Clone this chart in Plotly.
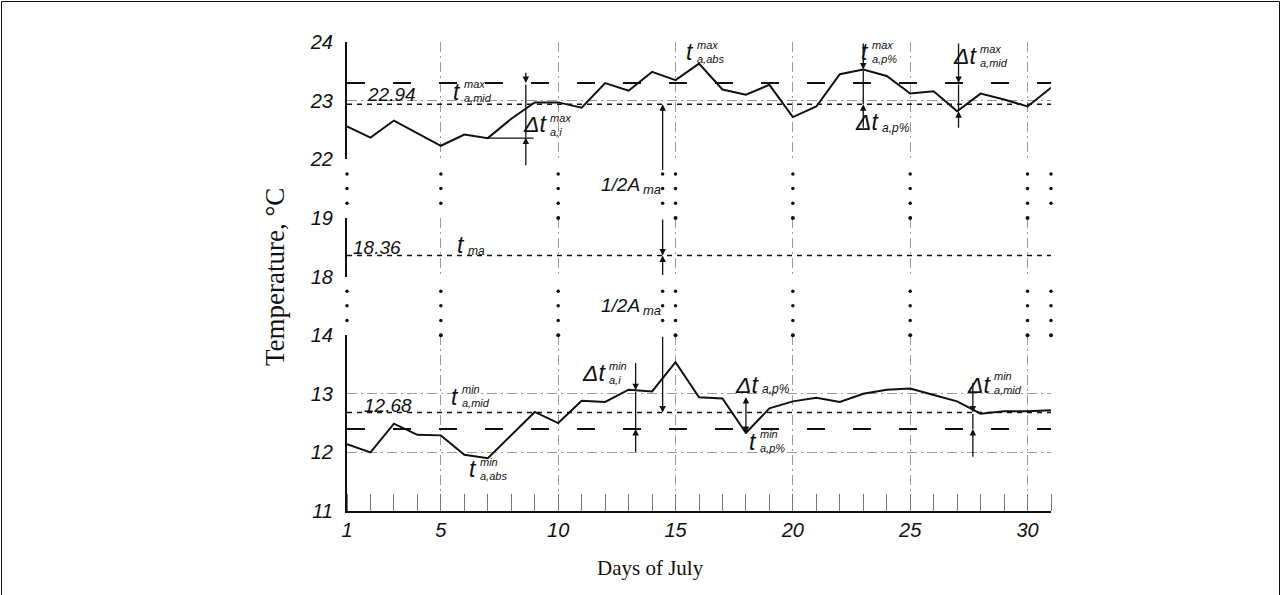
import plotly.graph_objects as go

# ---------------- data ----------------
days = list(range(1, 32))
t_max = [22.56, 22.37, 22.66, 22.44, 22.23, 22.42, 22.36, 22.69, 22.97, 22.97,
         22.88, 23.30, 23.17, 23.49, 23.35, 23.63, 23.19, 23.10, 23.27, 22.72,
         22.90, 23.45, 23.53, 23.42, 23.12, 23.16, 22.82, 23.12, 23.02, 22.90, 23.22]
t_min = [12.14, 12.00, 12.49, 12.30, 12.29, 11.96, 11.90, 12.30, 12.69, 12.50,
         12.88, 12.86, 13.07, 13.04, 13.54, 12.94, 12.92, 12.33, 12.75, 12.87,
         12.93, 12.86, 13.00, 13.07, 13.09, 12.98, 12.87, 12.66, 12.70, 12.70, 12.72]

tmax_mid = 22.94      # short dashed
tmax_ref = 23.30      # long dashed
t_ma = 18.36
tmin_mid = 12.68
tmin_ref = 12.40

x_ticks = [1, 5, 10, 15, 20, 25, 30, 31]
x_ticktext = ["1", "5", "10", "15", "20", "25", "30", ""]
y_top_ticks = [22, 23, 24]
y_mid_ticks = [18, 19]
y_bot_ticks = [11, 12, 13, 14]

gap_dot_days = [1, 5, 10, 14.45, 15, 20, 25, 30, 31]
gap_dot_levels = [0.25, 0.5, 0.75]
dots14_days = [5, 10, 15, 20, 25, 30, 31]
dots19_days = [10, 15, 20, 25, 30]

# ---------------- geometry helpers (pixel -> paper) ----------------
W_FIG, H_FIG = 1281, 595
L, R, T, B = 347, 1051, 42, 511
PW, PH = R - L, B - T


def px(x):
    return (x - L) / PW


def py(y):
    return (B - y) / PH


INK = "#111111"
SANS = "Liberation Sans"
SERIF = "Liberation Serif"
GRID = "#9a9a9a"
GRIDDASH = "10px,4px,2px,4px"

fig = go.Figure()

# curves
fig.add_trace(go.Scatter(x=days, y=t_max, xaxis="x", yaxis="y3", mode="lines",
                         line=dict(color=INK, width=2)))
fig.add_trace(go.Scatter(x=days, y=t_min, xaxis="x", yaxis="y", mode="lines",
                         line=dict(color=INK, width=2)))

# reference lines
for val, ax, dash, w in [(tmax_mid, "y3", "5px,5px", 1.5), (tmax_ref, "y3", "18px,28px", 2),
                         (t_ma, "y2", "5px,5px", 1.5),
                         (tmin_mid, "y", "5px,5px", 1.5), (tmin_ref, "y", "18px,28px", 2)]:
    fig.add_trace(go.Scatter(x=[days[0], days[-1]], y=[val, val], xaxis="x", yaxis=ax,
                             mode="lines", line=dict(color=INK, width=w, dash=dash)))

# short horizontal helper line for delta t max a,i
fig.add_trace(go.Scatter(x=[7, 8.95], y=[t_max[6], t_max[6]], xaxis="x", yaxis="y3",
                         mode="lines", line=dict(color=INK, width=1.3)))

# gap dots
gx, gy = [], []
for d in gap_dot_days:
    for lv in gap_dot_levels:
        gx.append(d)
        gy.append(lv)
for gax in ("y4", "y5"):
    fig.add_trace(go.Scatter(x=gx, y=gy, xaxis="x2", yaxis=gax, mode="markers",
                             marker=dict(color=INK, size=3.5), cliponaxis=False))
fig.add_trace(go.Scatter(x=dots14_days, y=[14] * len(dots14_days), xaxis="x", yaxis="y",
                         mode="markers", marker=dict(color=INK, size=4), cliponaxis=False))
fig.add_trace(go.Scatter(x=dots19_days, y=[19] * len(dots19_days), xaxis="x", yaxis="y2",
                         mode="markers", marker=dict(color=INK, size=4), cliponaxis=False))

ann = []


def arrow(day, t0, t1, yref, head=2, side="end"):
    ann.append(dict(x=day, y=t1, ax=day, ay=t0, xref="x", yref=yref, axref="x", ayref=yref,
                    text="", showarrow=True, arrowhead=head, arrowsize=1, arrowwidth=1.3,
                    arrowcolor=INK, arrowside=side, standoff=0, startstandoff=0))


def seg(day, t0, t1, yref):
    arrow(day, t0, t1, yref, head=0)


# top panel arrows
arrow(8.62, 23.5, tmax_ref, "y3"); seg(8.62, tmax_ref, 22.37, "y3"); arrow(8.62, 21.87, 22.37, "y3")
arrow(14.45, 21.79, tmax_mid, "y3")
arrow(23, 24.0, 23.53, "y3"); seg(23, 23.53, tmax_mid, "y3"); arrow(23, 22.51, tmax_mid, "y3")
arrow(27.06, 24.0, tmax_ref, "y3"); seg(27.06, tmax_ref, 22.82, "y3"); arrow(27.06, 22.51, 22.82, "y3")
# middle
arrow(14.45, 19.0, t_ma, "y2"); arrow(14.45, 18.0, t_ma, "y2")
# bottom
arrow(14.45, 14.0, tmin_mid, "y")
arrow(13.3, 13.55, 13.06, "y"); seg(13.3, 13.06, tmin_ref, "y"); arrow(13.3, 11.98, tmin_ref, "y")
arrow(18, 12.97, 12.33, "y", side="start+end")
arrow(27.67, 13.21, tmin_mid, "y"); seg(27.67, tmin_mid, tmin_ref, "y"); arrow(27.67, 11.90, tmin_ref, "y")


def text(s, x, y, size=19, xa="center", ya="middle", family=SANS, style="italic", angle=0):
    ann.append(dict(x=px(x), y=py(y), xref="paper", yref="paper", text=s, showarrow=False,
                    xanchor=xa, yanchor=ya, textangle=angle, align="left", borderpad=0,
                    font=dict(family=family, size=size, color=INK, style=style)))


def tlabel(main, rx, cy, sup=None, sub=None, sy=None, ms=23, ss=11):
    text(main, rx, cy, size=ms, xa="right")
    if sup and sub:
        text(sup + "<br>" + sub, rx + 1, sy, size=ss, xa="left")
    elif sup or sub:
        text(sup or sub, rx + 1, sy, size=ss + 1, xa="left")


# numbers
text("22.94", 391, 95)
text("18.36", 377, 247)
text("12.68", 388, 405)
# 1/2 A_ma
for yy in (184, 305):
    text("1/2A", 641, yy, size=19, xa="right")
    text("ma", 642, yy + 5, size=13, xa="left")

# t labels  (main, right x of main glyph, centre y, sup, sub, centre y of scripts)
tlabel("t", 462, 92, "max", "a,mid", 91)
tlabel("Δt", 548, 124, "max", "a,i", 125)
tlabel("t", 695, 52, "max", "a,abs", 52)
tlabel("t", 870, 52, "max", "a,p%", 52)
tlabel("Δt", 880, 122, None, "a,p%", 128)
tlabel("Δt", 978, 56, "max", "a,mid", 56)
tlabel("t", 466, 245, None, "ma", 251)
tlabel("t", 460, 397, "min", "a,mid", 396)
tlabel("t", 478, 469, "min", "a,abs", 469)
tlabel("Δt", 607, 373, "min", "a,i", 373)
tlabel("Δt", 760, 385, None, "a,p%", 389)
tlabel("t", 758, 442, "min", "a,p%", 441)
tlabel("Δt", 992, 385, "min", "a,mid", 383)

# axis titles
text("Temperature, °C", 275, 277, size=27, family=SERIF, style="normal", angle=-90)
text("Days of July", 650, 568, size=21, family=SERIF, style="normal")

tickfont = dict(family=SANS, size=20, color=INK, style="italic")


def yax(dom, rng, ticks):
    return dict(domain=dom, range=rng, anchor="x", tickvals=ticks, ticktext=[str(t) for t in ticks],
                showline=True, linecolor=INK, linewidth=2, ticks="outside", ticklen=8,
                tickcolor="rgba(0,0,0,0)", showgrid=True, gridcolor=GRID, griddash=GRIDDASH,
                gridwidth=1, zeroline=False, tickfont=tickfont, fixedrange=True)


fig.update_layout(
    width=W_FIG, height=H_FIG,
    margin=dict(l=L, r=W_FIG - R, t=T, b=H_FIG - B, pad=0),
    paper_bgcolor="white", plot_bgcolor="rgba(0,0,0,0)",
    showlegend=False,
    xaxis=dict(domain=[0, 1], range=[1, 31], anchor="y", tickmode="array", tickvals=x_ticks,
               ticktext=x_ticktext, showline=True, linecolor=INK, linewidth=2, ticks="",
               showgrid=True, gridcolor=GRID, griddash=GRIDDASH, gridwidth=1, zeroline=False,
               tickfont=tickfont, fixedrange=True,
               minor=dict(dtick=1, tick0=0, ticks="inside", ticklen=17, tickcolor="#777",
                          tickwidth=1, showgrid=False)),
    yaxis=yax([0, 0.375], [11, 14], y_bot_ticks),
    yaxis2=yax([0.5, 0.625], [18, 19], y_mid_ticks),
    yaxis3=yax([0.75, 1], [22, 24], y_top_ticks),
    xaxis2=dict(domain=[0, 1], range=[1, 31], anchor="y4", visible=False, fixedrange=True),
    yaxis4=dict(domain=[0.375, 0.5], range=[0, 1], anchor="x2", visible=False, fixedrange=True),
    yaxis5=dict(domain=[0.625, 0.75], range=[0, 1], anchor="x2", visible=False, fixedrange=True),
    annotations=ann,
    shapes=[dict(type="rect", xref="paper", yref="paper", x0=px(1.5), x1=px(1279.5),
                 y0=py(640), y1=py(1.5), line=dict(color=INK, width=1))],
)

fig.write_html("out.html", config={"displayModeBar": False},
               post_script="document.body.style.margin='0';")
